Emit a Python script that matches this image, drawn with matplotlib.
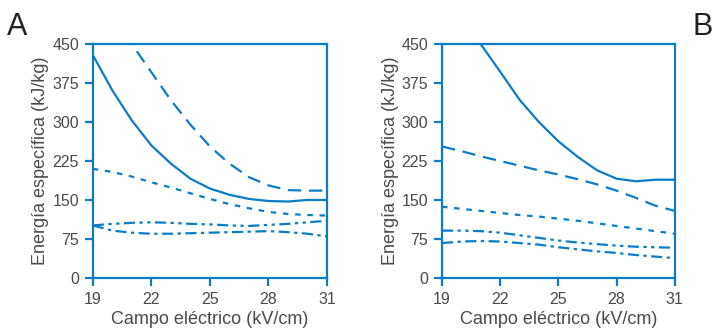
import numpy as np
import matplotlib
matplotlib.use("Agg")
from matplotlib import pyplot as plt

campo = [19, 20, 21, 22, 23, 24, 25, 26, 27, 28, 29, 30, 31]

# panel A
a_solida = [429, 361, 303, 255, 220, 191, 172, 160, 152, 148, 147, 150, 150]
a_guion = [560, 505, 450, 396, 342, 295, 253, 220, 194, 178, 169, 168, 168]
a_punto = [210, 204, 195, 184, 174, 163, 152, 142, 134, 127, 123, 121, 120]
a_rayapunto = [101, 104, 106, 107, 106, 104, 103, 101, 100, 102, 104, 107, 110]
a_rayapunto2 = [101, 91, 87, 85, 85, 86, 87, 88, 89, 90, 88, 85, 80]

# panel B
b_solida = [560, 505, 450, 397, 343, 300, 263, 233, 207, 191, 186, 189, 189]
b_guion = [253, 244, 234, 225, 216, 207, 199, 190, 180, 168, 154, 139, 129]
b_punto = [137, 133, 129, 125, 121, 118, 114, 110, 105, 100, 95, 90, 85]
b_rayapunto = [91, 91, 90, 87, 82, 77, 72, 68, 65, 62, 60, 59, 58]
b_rayapunto2 = [67, 70, 71, 70, 67, 64, 59, 55, 51, 48, 44, 41, 38]

azul = '#0a7dc6'
gris = '#4a4a4a'
plt.rcParams['font.family'] = ['Liberation Sans', 'DejaVu Sans']

fig = plt.figure(figsize=(7.14, 3.32), dpi=100)
axA = fig.add_axes([0.130, 0.163, 0.328, 0.704])
axB = fig.add_axes([0.619, 0.163, 0.326, 0.704])

estilos = ['-', (0, (6, 3.5)), (0, (2.5, 3)), (0, (5, 2, 1.5, 2, 1.5, 2)), (0, (5, 2, 1.5, 2))]

for ax, series in [(axA, [a_solida, a_guion, a_punto, a_rayapunto, a_rayapunto2]),
                   (axB, [b_solida, b_guion, b_punto, b_rayapunto, b_rayapunto2])]:
    for s, ls in zip(series, estilos):
        ax.plot(campo, s, color=azul, lw=1.6, linestyle=ls)
    ax.set_xlim(19, 31)
    ax.set_ylim(0, 450)
    ax.set_xticks([19, 22, 25, 28, 31])
    ax.set_yticks([0, 75, 150, 225, 300, 375, 450])
    for sp in ax.spines.values():
        sp.set_color(azul)
        sp.set_linewidth(1.6)
    ax.tick_params(direction='out', length=6, width=1.6, color=azul,
                   labelcolor=gris, labelsize=11.5, pad=4)
    ax.set_xlabel('Campo eléctrico (kV/cm)', color=gris, fontsize=13, labelpad=3)
    ax.set_ylabel('Energía específica (kJ/kg)', color=gris, fontsize=13, labelpad=2)

fig.text(0.010, 0.895, 'A', fontsize=22, color='#222222')
fig.text(0.970, 0.895, 'B', fontsize=22, color='#222222')

fig.savefig('out.png', dpi=100)
